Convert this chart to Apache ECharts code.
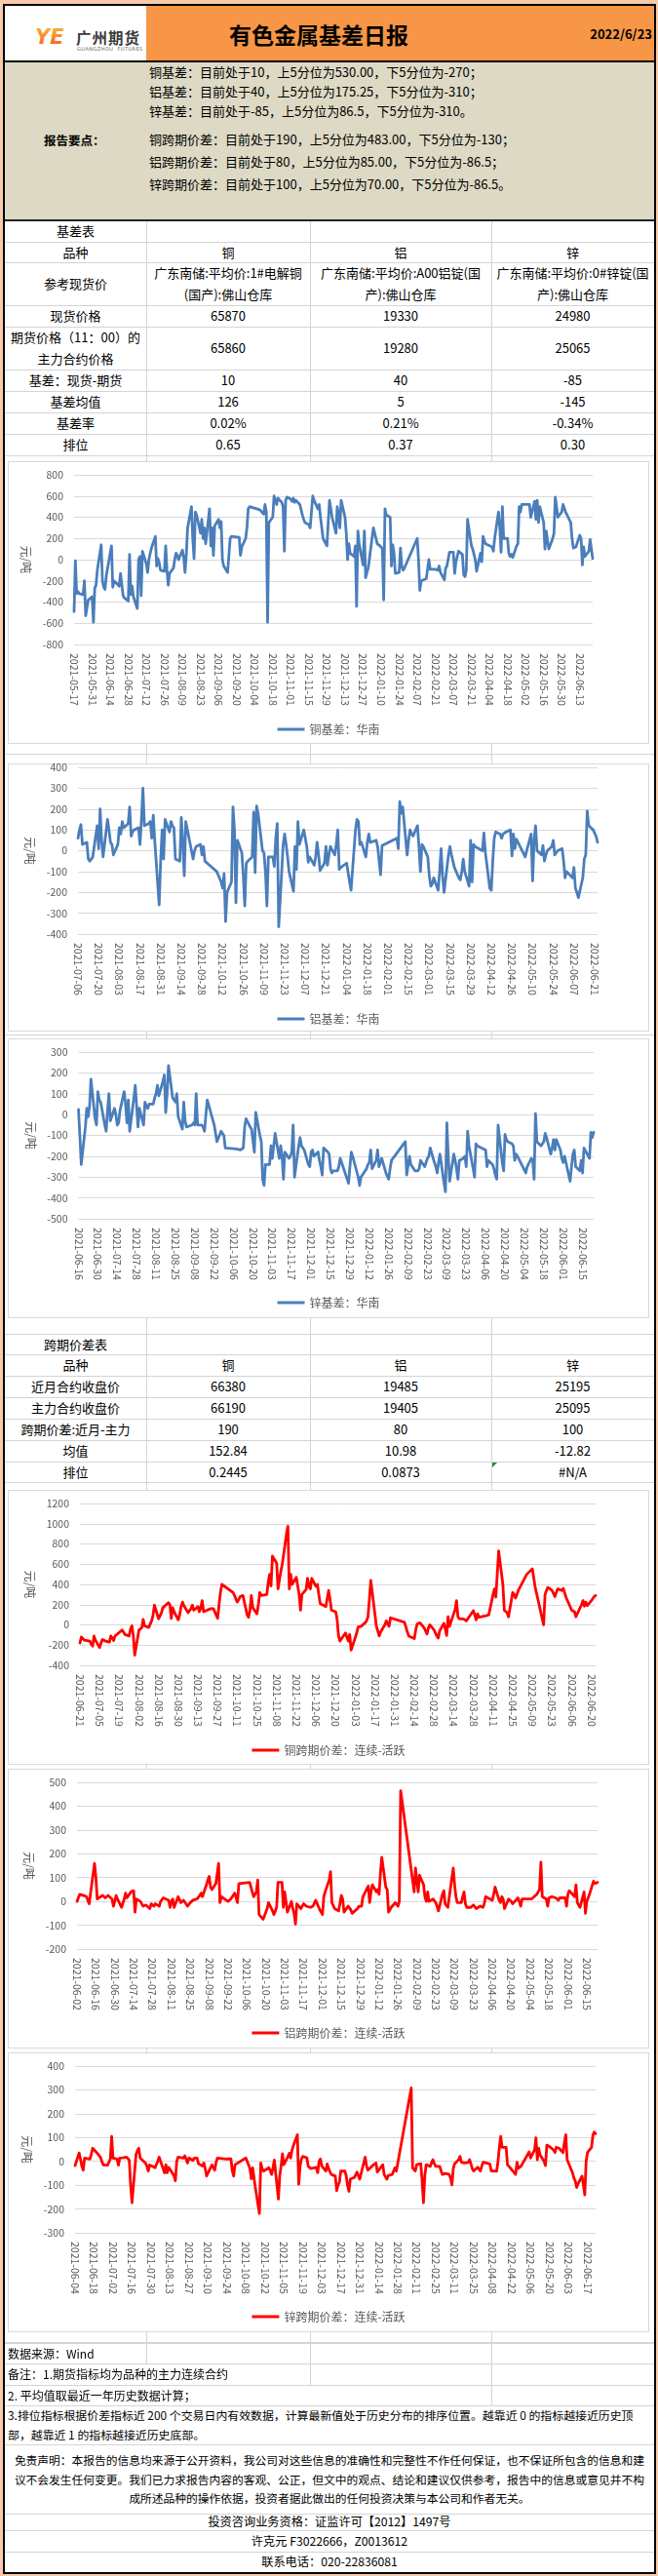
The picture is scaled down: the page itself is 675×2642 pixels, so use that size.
<!DOCTYPE html>
<html lang="zh-CN">
<head>
<meta charset="utf-8">
<title>有色金属基差日报</title>
<script src="https://cdn.jsdelivr.net/npm/echarts@6.0.0/dist/echarts.min.js"></script>
<style>
html,body{margin:0;padding:0}
body{position:relative;width:675px;height:2642px;overflow:hidden;background:#F8CBAD;font-family:"Noto Sans CJK SC","Noto Sans",sans-serif;color:#000}
.abs{position:absolute}
.cell{position:absolute;display:flex;align-items:center;justify-content:center;text-align:center;font-size:13px;line-height:22px;white-space:nowrap;box-sizing:border-box}
.hl{position:absolute;height:1px;background:#d4d4d4}
.vl{position:absolute;width:1px;background:#d4d4d4}
.box{position:absolute;left:8px;width:658px;box-sizing:border-box;border:1px solid #d9d9d9;background:#fff}
.chart{position:absolute;left:8px;width:658px}
.rep{position:absolute;left:153px;height:22px;line-height:22px;font-size:13px;white-space:nowrap}
.ft{position:absolute;white-space:nowrap;font-size:12px}
</style>
</head>
<body>
<div class="abs" style="left:5px;top:6px;width:666px;height:2632px;background:#fff"></div>
<div class="vl" style="left:150px;top:226px;height:2412px"></div>
<div class="vl" style="left:318px;top:226px;height:2412px"></div>
<div class="vl" style="left:504px;top:226px;height:2412px"></div>

<!-- header -->
<div class="abs" style="left:150px;top:6px;width:521px;height:57px;background:#F79646"></div>
<svg class="abs" style="left:34px;top:24px" width="42" height="26" viewBox="0 0 42 26">
  <defs><linearGradient id="lg" x1="0" y1="0" x2="0" y2="1"><stop offset="0" stop-color="#FDB933"/><stop offset="1" stop-color="#F15A22"/></linearGradient></defs>
  <text x="2" y="21" font-family="DejaVu Sans" font-style="italic" font-weight="900" font-size="21" fill="url(#lg)">YE</text>
</svg>
<div class="abs" style="left:78px;top:28px;font-weight:700;font-size:15.5px;letter-spacing:1px;color:#3c3c3c;line-height:20px">广州期货</div>
<div class="abs" style="left:79px;top:47px;font-size:5px;line-height:6px;letter-spacing:0.45px;color:#666;font-family:'DejaVu Sans'">GUANGZHOU&nbsp; FUTURES</div>
<div class="abs" style="left:150px;top:6px;width:354px;height:57px;display:flex;align-items:center;justify-content:center;font-size:23px;font-weight:700">有色金属基差日报</div>
<div class="abs" style="right:6px;top:6px;height:57px;display:flex;align-items:center;font-size:13px;font-weight:700">2022/6/23</div>
<div class="abs" style="left:5px;top:62px;width:666px;height:1.5px;background:#000"></div>

<!-- report points -->
<div class="abs" style="left:5px;top:63.5px;width:666px;height:162px;background:#DDD9C4"></div>
<div class="abs" style="left:45px;top:133px;height:22px;line-height:22px;font-size:12.5px;font-weight:700">报告要点：</div>
<div class="abs" style="left:5px;top:225px;width:666px;height:1.5px;background:#222"></div>

<script>
const FONT = '"Noto Sans CJK SC","Noto Sans",sans-serif';

// ---------- report text ----------
const reportLines = [
  '铜基差：目前处于10，上5分位为530.00，下5分位为-270；',
  '铝基差：目前处于40，上5分位为175.25，下5分位为-310；',
  '锌基差：目前处于-85，上5分位为86.5，下5分位为-310。',
  '铜跨期价差：目前处于190，上5分位为483.00，下5分位为-130；',
  '铝跨期价差：目前处于80，上5分位为85.00，下5分位为-86.5；',
  '锌跨期价差：目前处于100，上5分位为70.00，下5分位为-86.5。'
];
const reportCenters = [74, 94, 114, 143, 166, 189];

// ---------- table data ----------
const basisTableRows = [
  ['基差表', '', '', ''],
  ['品种', '铜', '铝', '锌'],
  ['参考现货价', '广东南储:平均价:1#电解铜<br>(国产):佛山仓库', '广东南储:平均价:A00铝锭(国<br>产):佛山仓库', '广东南储:平均价:0#锌锭(国<br>产):佛山仓库'],
  ['现货价格', '65870', '19330', '24980'],
  ['期货价格（11：00）的<br>主力合约价格', '65860', '19280', '25065'],
  ['基差：现货-期货', '10', '40', '-85'],
  ['基差均值', '126', '5', '-145'],
  ['基差率', '0.02%', '0.21%', '-0.34%'],
  ['排位', '0.65', '0.37', '0.30']
];
const basisRowEdges = [226, 248, 269, 313, 335, 379, 401, 423, 445, 467];

const spreadTableRows = [
  ['跨期价差表', '', '', ''],
  ['品种', '铜', '铝', '锌'],
  ['近月合约收盘价', '66380', '19485', '25195'],
  ['主力合约收盘价', '66190', '19405', '25095'],
  ['跨期价差:近月-主力', '190', '80', '100'],
  ['均值', '152.84', '10.98', '-12.82'],
  ['排位', '0.2445', '0.0873', '#N/A']
];
const spreadRowEdges = [1368, 1389, 1411, 1433, 1455, 1477, 1499, 1520];

// ---------- chart data: values per trading day, grouped in 14-day windows from each start date ----------
const HOLIDAYS = ['2021-06-14','2021-09-20','2021-09-21','2021-10-01','2021-10-04','2021-10-05','2021-10-06','2021-10-07',
  '2022-01-03','2022-01-31','2022-02-01','2022-02-02','2022-02-03','2022-02-04','2022-04-04','2022-04-05',
  '2022-05-02','2022-05-03','2022-05-04','2022-06-03'];
const END_DATE = '2022-06-23';

const cuBasisStart = '2021-05-17';
const cuBasisVals = [
  [-490,-10,-320,-300,-320,-330,-200,-530,-450,-380],
  [-350,-590,-270,-240,-100,140,-200,-260,-280,-150],
  [130,-260,-200,-210,-250,-130,-120,-340,-360],
  [-390,50,-330,-250,-350,-460,0,30,-340,80],
  [-40,-120,0,60,110,220,-60,10,-30,-100],
  [-110,130,-100,-240,-130,-80,0,60,40,0],
  [90,20,-120,50,300,500,200,10,450,420],
  [250,380,200,300,150,480,130,300,40,320],
  [380,300,360,0,-60,-120,-120,200,220,210],
  [210,40,120,200,300,480,500],
  [470,430,520,450,-590,350],
  [400,600,560,520,580,540,500,80,560,590],
  [570,550,580,540,560,520,470,420,380,350],
  [330,300,450,600,560,480,520,400,300,200],
  [130,350,560,480,400,250,500,420,300,560],
  [400,250,0,150,60,30,130,-440,270,150],
  [-50,270,-170,-120,-80,300,250,200,150],
  [120,100,-380,480,420,400,-60,140,60,-130],
  [-120,110,-60,-100,-80],
  [200,0,-290,-200,-190,-180,-170,0,-90,-90],
  [-90,-100,-100,-60,-120,-190,-80,-60,-50,70],
  [70,-130,-20,30,80,50,-140,-160,-100,380],
  [130,100,50,0,-110,60,-20,220,180,150],
  [120,80,200,450,300,70,500,200],
  [200,60,30,50,20,130,150,500,450,520],
  [520,400,550,380,560,350,500],
  [350,100,270,180,100,200,250,590,500,400],
  [450,520,530,450,350,200,110,100,120],
  [230,200,-50,120,30,80,190,100,10]
];

const alBasisStart = '2021-07-06';
const alBasisVals = [
  [60,100,125,30,40,-40,-50,-50,-30,120],
  [10,200,50,-30,150,100,40,30,-20,30],
  [110,80,140,110,130,210,70,90,100,110],
  [30,150,300,120,130,140,60,170,50,-260],
  [-50,100,-40,150,90,140,120,110,-40,-50],
  [160,40,-120,140,-40,0,20,30],
  [-20,20,-50,-100,-150],
  [-180,-110,-340,-200,-150,210,100,-250,50,-10],
  [-120,-265,-60,-50,-30,185,-105,215,180,0],
  [-10,-100,-265,-30,-30,-75,60,130,-365,30],
  [80,30,-30,-100,-195,20,-90,140,30,100],
  [105,20,-55,-30,-70,-30,40,-20,-95,-60],
  [20,-70,-20,20,-20,30,100,-90,-80],
  [-60,-60,-150,-190,100,150,140,30,40,-30],
  [40,80,40,45,50,20,20,-115,25],
  [60,10,235,180,210,-20],
  [50,100,80,70,120,20,-100,30,20,-30],
  [-120,-170,-160,-130,-190,-100,10,-120,-200,-20],
  [20,-20,-50,-80,-130,-140,-100,-40,-100,-170],
  [50,-150,30,20,0,85,-10,-180],
  [-190,-50,60,90,80,60,80,85,90,100],
  [-25,80,10,55,-30,0,80],
  [-145,50,120,0,-20,25,-50,-20,0,20],
  [50,-20,-10,0,10,-50,-130,-100,-130],
  [-80,-180,-200,-225,-130,-40,-20,190,120,100],
  [100,70,40]
];

const znBasisStart = '2021-06-16';
const znBasisVals = [
  [25,-100,-240,-60,30,-10,40,170,-20,-50],
  [110,70,60,-50,-80,20,100,-30,30,0],
  [-50,-40,20,110,50,-40,70,-80,80,140],
  [40,-60,30,-50,60,40,30,50,50,80],
  [100,140,90,160,190,10,100,235,80,70],
  [60,100,-10,-70,60,-30,-60,-60,-50,-40],
  [-50,100,-50,-50,-60,-80,0,70],
  [-50,-50,-130,-80,-80,-100,-160],
  [-165,-170,-165,-160,-60,-20,-60,-70],
  [-70,-180,10,-100,-130,-310,-340,-240,-240,-150],
  [-210,-150,-90,-210,-150,-200,-310,-180,-210,-200],
  [-180,-50,-300,-150,-110,-150,-160,-170,-240,-250],
  [-180,-170,-200,-180,-220,-250,-290,-160,-180,-190],
  [-260,-280,-270,-270,-250,-210,-230,-250,-310,-330],
  [-250,-180,-200,-300,-340,-300,-290,-260,-240],
  [-230,-170,-260,-220,-170,-250,-230,-210,-280,-280],
  [-310,-260,-220,-130,-290],
  [-290,-200,-240,-270,-270,-270,-260,-220,-250,-230],
  [-210,-200,-160,-230,-250,-280,-230,-190,-330,-370],
  [-40,-200,-320,-190,-220,-260,-310,-220,-210,-200],
  [-250,-80,-150,-260,-300,-140,-150,-150],
  [-170,-250,-220,-240,-260,-290,-310,-50,-230,-270],
  [-95,-120,-130,-140,-150,-220,-190,-200],
  [-280,-250,-210,-220,-310,5,-130,-150,-140],
  [-130,-90,-110,-190,-160,-120,-170,-120,-170,-210],
  [-230,-200,-320,-250,-190,-170,-250,-270,-220],
  [-280,-160,-160,-210,-85,-110,-85]
];

const cuSpreadStart = '2021-06-21';
const cuSpreadVals = [
  [-180,-120,-130,-150,-150,-160,-190,-210,-110,-150],
  [-225,-180,-145,-155,-160,-170,-110,-130,-155,-110],
  [-75,-80,-50,-50,-95,-110,-40,-10,-110,-300],
  [-50,-40,-30,55,-10,-25,-20,40,90,195],
  [60,90,120,170,185,220,200,65,170,130],
  [50,100,180,225,190,120,140,160,195,145],
  [180,130,170,240,130,160,160,160],
  [65,200,320,400,320],
  [225,250,280,290,290,100,75,145,290,170],
  [110,200,320,290,275,300,420,500,385,680],
  [610,355,450,530,600,900,975,355,500,400],
  [470,470,300,145,300,350,460,380,355,460],
  [380,400,300,210,195,180,260,340,250,145],
  [130,60,-100,-160,-150,-80,-120,-160,-95,-250],
  [-80,-20,-15,-15,20,40,80,250,440],
  [100,-15,-60,-110,-70,0,40,30,-15,70],
  [25,-20,-70,-110,-95],
  [-135,-50,10,15,20,-30,-60,-90,-30,0],
  [-50,-80,-110,-130,-60,15,-40,-105,80,-15],
  [110,150,240,80,60,60,75,40,60,80],
  [140,100,50,110,75,90,95,100],
  [300,355,275,500,730,400,145,160,120,80],
  [320,300,265,300,340,500,515],
  [555,570,370,355,250,60,0,300,340,370],
  [340,340,280,320,355,340,360,370,270],
  [145,145,130,80,95,200,240,185,225,190],
  [240,260,280,290]
];

const alSpreadStart = '2021-06-02';
const alSpreadVals = [
  [0,15,30,25,20,20,15,-10,160],
  [100,10,15,25,20,15,20,25,10,-20],
  [0,25,10,-25,-20,10,35,15,40,45],
  [45,-45,10,0,-10,-20,-15,-15,-30,-10],
  [-5,-20,-10,-20,0,5,15,20,5,-25],
  [0,10,-25,20,25,-5,0,5,-20,-15],
  [-5,0,5,10,15,25,35,20,70,90],
  [105,60,50,75,80,160,-5,20],
  [0,-5,10,35,40,-5,75],
  [80,20,30,40,90,-55,-75,-70],
  [-45,-30,-5,-40,-55,-40,-25,80,80,-25],
  [40,45,-45,0,-30,-50,-95,-10,-30,-25],
  [-10,-5,-20,-25,-20,-20,-15,5,-35,-45],
  [-55,20,40,90,125,-5,0,-30,-40,-45],
  [25,10,-45,-20,-25,-35,-50,-55,-30,-20],
  [-20,-20,20,65,-5,40,70,40,50],
  [30,120,185,60,50,-45,-35,-25,-5,-10],
  [-20,0,465,40,140],
  [90,40,110,70,20,0,40,0,10,5],
  [-5,-20,-40,30,45,-10,-15,-25,100,140],
  [70,20,-5,-5,20,40,-10,-25,-25,-20],
  [-15,-20,-30,-20,-20,-25,-10,20],
  [5,30,60,5,-5,20,10,-30,10,15],
  [0,-10,-15,15,0,-20,10,10],
  [10,10,30,40,50,165,20,10,-20],
  [15,20,20,15,10,5,15,20,15,-20],
  [30,45,20,70,-5,-10,-25,40,-50],
  [0,15,30,85,75,70,80]
];

const znSpreadStart = '2021-06-04';
const znSpreadVals = [
  [-18,35,10,-20,-37,14,10,30,55],
  [55,30,38,14,-5,-16,-16,-18,10,105],
  [14,10,-16,14,16,15,18,10,4,-100],
  [-174,30,45,55,14,10,-7,-20,-41,-15],
  [-10,-27,-27,0,18,10,-48,-14,-48,-25],
  [-18,-60,-82,0,18,14,14,23,15,-7],
  [14,4,14,12,14,-10,-20,-7,-30,-62],
  [-50,-15,-7,-37,-5,14,11,14],
  [10,10,-40,-62,-14],
  [14,-30,-73,-27,-30,-110,-219,-7,-30,-41],
  [-37,-27,-40,-55,-27,5,-158,-60,-20,32],
  [-14,20,34,14,45,65,112,-96,-20,10],
  [21,15,-21,-25,-30,-32,-25,-48,0,10],
  [-20,-41,-11,-30,-44,-55,-62,-123,-100,-89],
  [-41,-41,-60,-100,-126,-75,-68,-62,-45,-41],
  [-75,18,-20,-37,-34,-15,-10,-7,-45],
  [-52,-14,-55,-65,-75,-60,-55,-40,-27,-41],
  [-41,308,-27,-35,-41],
  [-14,-10,-80,-174,-60,-14,-21,-5,7,-10],
  [-21,-21,-40,-55,-51,-51,-55,-70,-99,-30],
  [-10,7,21,-4,-6,-7,-5,7,-10,-30],
  [-41,-25,-21,-41,-20,-4,-11,-40],
  [-48,-41,0,60,105,59,59,-15,-21,-27],
  [-35,-55,-4,-30,-34,-20,40],
  [14,48,99,7,55,27,0,-18,68,62],
  [62,48,37,59,59,55,37,80,112,7],
  [-48,-70,-82,-110,-95,-62,-100,-141,0],
  [37,59,110,123,116]
];

const footNotes = {
  source: '数据来源：Wind',
  note1: '备注：1.期货指标均为品种的主力连续合约',
  note2: '2. 平均值取最近一年历史数据计算；',
  note3: ['3.排位指标根据价差指标近 200 个交易日内有效数据，计算最新值处于历史分布的排序位置。越靠近 0 的指标越接近历史顶', '部，越靠近 1 的指标越接近历史底部。'],
  disclaimer: ['免责声明：本报告的信息均来源于公开资料，我公司对这些信息的准确性和完整性不作任何保证，也不保证所包含的信息和建',
               '议不会发生任何变更。我们已力求报告内容的客观、公正，但文中的观点、结论和建议仅供参考，报告中的信息或意见并不构',
               '成所述品种的操作依据，投资者据此做出的任何投资决策与本公司和作者无关。'],
  license: '投资咨询业务资格：证监许可【2012】1497号',
  author: '许克元 F3022666，Z0013612',
  phone: '联系电话：020-22836081'
};

// ---------- helpers ----------
const DAY = 86400000;
function utc(s){ const p = s.split('-').map(Number); return Date.UTC(p[0], p[1]-1, p[2]); }
const holSet = new Set(HOLIDAYS.map(utc));
const END = utc(END_DATE);
function buildPoints(startStr, chunks){
  const s = utc(startStr), pts = [];
  chunks.forEach((chunk, k) => {
    const days = [];
    for (let d = 14*k; d < 14*k + 14; d++) {
      const t = s + d*DAY;
      if (t > END) break;
      const wd = new Date(t).getUTCDay();
      if (wd === 0 || wd === 6 || holSet.has(t)) continue;
      days.push(d);
    }
    chunk.forEach((v, i) => { if (i < days.length) pts.push([days[i], v]); });
  });
  return pts;
}
function fmt(startStr, off){
  const t = new Date(utc(startStr) + off*DAY);
  return t.getUTCFullYear() + '-' + String(t.getUTCMonth()+1).padStart(2,'0') + '-' + String(t.getUTCDate()).padStart(2,'0');
}
function el(cls, style, html){
  const d = document.createElement('div'); d.className = cls; d.setAttribute('style', style); if (html !== undefined) d.innerHTML = html;
  document.body.appendChild(d); return d;
}
function hline(y, x1, x2, color){ el('hl', `left:${x1}px;top:${y}px;width:${x2-x1}px;` + (color ? `background:${color};` : '')); }

// report lines
reportLines.forEach((t, i) => el('rep', `top:${reportCenters[i]-11}px`, t));

// tables
const COLS = [5, 150, 318, 504, 671];
function drawTable(rows, edges, skipTop){
  edges.forEach((y, i) => { if (!(i === 0 && skipTop)) hline(y, 5, 671); });
  rows.forEach((r, i) => {
    const y1 = edges[i], y2 = edges[i+1];
    r.forEach((txt, j) => {
      if (!txt) return;
      el('cell', `left:${COLS[j]}px;top:${y1}px;width:${COLS[j+1]-COLS[j]}px;height:${y2-y1}px;`, txt);
    });
  });
}
drawTable(basisTableRows, basisRowEdges, true);
drawTable(spreadTableRows, spreadRowEdges, false);
// green error marker
el('abs', 'left:505px;top:1500px;width:0;height:0;border-top:5px solid #1E8C3A;border-right:5px solid transparent;');

// gap lines between charts
[773, 1061, 2402].forEach(y => hline(y, 5, 671));

// ---------- charts ----------
function addChart(c){
  el('box', `top:${c.boxTop}px;height:${c.boxBottom-c.boxTop}px;`);
  const top = c.boxTop - 10;
  const div = el('chart', `top:${top}px;height:${c.boxBottom-top}px;`);
  const ch = echarts.init(div, null, {renderer: 'canvas'});
  const endOff = Math.round((END - utc(c.start)) / DAY);
  ch.setOption({
    animation: false,
    textStyle: {fontFamily: FONT},
    grid: {left: c.plotLeft - 8, right: 666 - c.plotRight, top: c.plotTop - top, bottom: c.boxBottom - c.plotBottom, containLabel: false, outerBoundsMode: 'none'},
    legend: {data: [c.name], left: 'center', top: c.legendY - top - 8, icon: 'rect', itemWidth: 28, itemHeight: 3,
      textStyle: {fontSize: 12, color: '#595959', fontFamily: FONT}},
    xAxis: {type: 'value', min: 0, max: endOff, interval: 14,
      splitLine: {show: false}, axisLine: {show: false}, axisTick: {show: false},
      axisLabel: {rotate: -90, margin: 9, fontSize: 10.5, color: '#595959', fontFamily: FONT,
        formatter: v => (v % 14 === 0 ? fmt(c.start, v) : '')}},
    yAxis: {type: 'value', min: c.ymin, max: c.ymax, interval: c.yint,
      splitLine: {show: true, lineStyle: {color: '#d9d9d9', width: 1}},
      axisLine: {show: false}, axisTick: {show: false},
      axisLabel: {fontSize: 10.5, color: '#595959', margin: 11, fontFamily: FONT, formatter: v => String(v)},
      name: '元/吨', nameLocation: 'middle', nameRotate: -90, nameGap: 38,
      nameTextStyle: {fontSize: 12, color: '#595959', fontFamily: FONT}},
    series: [{type: 'line', name: c.name, data: buildPoints(c.start, c.vals), showSymbol: false, symbol: 'none',
      lineStyle: {width: 2.8, color: c.color, join: 'round', cap: 'round'}, itemStyle: {color: c.color}}]
  });
}
const BLUE = '#4A7EBB', RED = '#FF0000';
addChart({start: cuBasisStart, vals: cuBasisVals, name: '铜基差：华南', color: BLUE, ymin: -800, ymax: 800, yint: 200,
  boxTop: 473, boxBottom: 763, plotTop: 487, plotBottom: 661, plotLeft: 76, plotRight: 608, legendY: 745});
addChart({start: alBasisStart, vals: alBasisVals, name: '铝基差：华南', color: BLUE, ymin: -400, ymax: 400, yint: 100,
  boxTop: 783, boxBottom: 1058, plotTop: 787, plotBottom: 958, plotLeft: 80, plotRight: 613, legendY: 1042});
addChart({start: znBasisStart, vals: znBasisVals, name: '锌基差：华南', color: BLUE, ymin: -500, ymax: 300, yint: 100,
  boxTop: 1065, boxBottom: 1352, plotTop: 1079, plotBottom: 1250, plotLeft: 80.5, plotRight: 609, legendY: 1333});
addChart({start: cuSpreadStart, vals: cuSpreadVals, name: '铜跨期价差：连续-活跃', color: RED, ymin: -400, ymax: 1200, yint: 200,
  boxTop: 1528, boxBottom: 1810, plotTop: 1542, plotBottom: 1708, plotLeft: 82, plotRight: 611, legendY: 1792});
addChart({start: alSpreadStart, vals: alSpreadVals, name: '铝跨期价差：连续-活跃', color: RED, ymin: -200, ymax: 500, yint: 100,
  boxTop: 1814, boxBottom: 2101, plotTop: 1828, plotBottom: 1999, plotLeft: 79, plotRight: 613, legendY: 2082});
addChart({start: znSpreadStart, vals: znSpreadVals, name: '锌跨期价差：连续-活跃', color: RED, ymin: -300, ymax: 400, yint: 100,
  boxTop: 2105, boxBottom: 2392, plotTop: 2119, plotBottom: 2290, plotLeft: 77, plotRight: 611, legendY: 2373});

// ---------- footer ----------
el('abs', 'left:5px;top:2425px;width:312px;height:21px;background:#fff');
el('abs', 'left:5px;top:2447px;width:498px;height:20px;background:#fff');
el('abs', 'left:5px;top:2468px;width:666px;height:170px;background:#fff');
[2403, 2424, 2446, 2467, 2507, 2578, 2595, 2617].forEach(y => hline(y, 5, 671));
el('ft', 'left:8px;top:2403px;height:21px;line-height:21px;', footNotes.source);
el('ft', 'left:8px;top:2424px;height:22px;line-height:22px;', footNotes.note1);
el('ft', 'left:8px;top:2446px;height:21px;line-height:21px;', footNotes.note2);
el('ft', 'left:8px;top:2467px;line-height:19.5px;font-size:11.9px;', footNotes.note3.join('<br>'));
el('ft', 'left:5px;top:2513px;width:666px;text-align:center;line-height:19.5px;font-size:11.75px;', footNotes.disclaimer.join('<br>'));
el('ft', 'left:5px;top:2578px;width:666px;height:17px;line-height:17px;text-align:center;font-size:12.2px;', footNotes.license);
el('ft', 'left:5px;top:2596px;width:666px;height:21px;line-height:21px;text-align:center;font-size:12.2px;', footNotes.author);
el('ft', 'left:5px;top:2617px;width:666px;height:21px;line-height:21px;text-align:center;font-size:12.2px;', footNotes.phone);

// outer black frame
el('abs', 'left:3px;top:4px;width:670px;height:2636px;box-sizing:border-box;border:2px solid #000;pointer-events:none;');
</script>
</body>
</html>
